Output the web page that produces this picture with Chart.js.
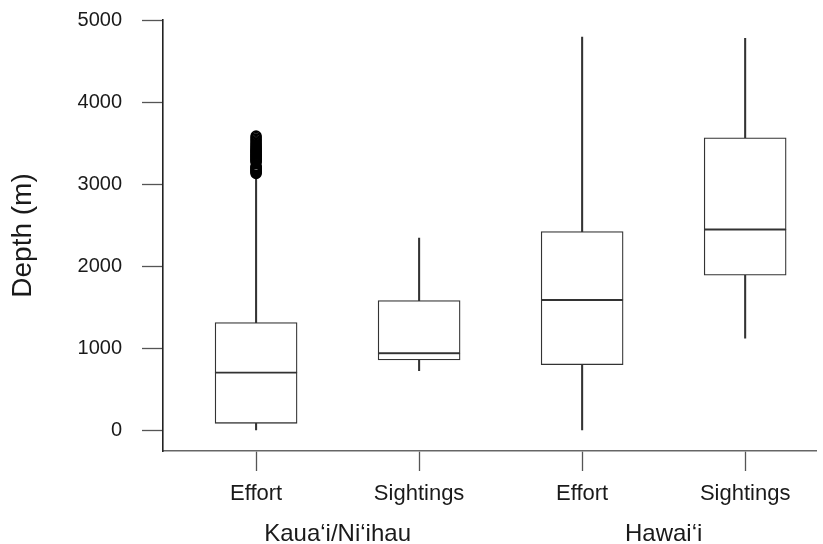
<!DOCTYPE html>
<html>
<head>
<meta charset="utf-8">
<script src="https://cdn.jsdelivr.net/npm/chart.js@4.4.1/dist/chart.umd.min.js"></script>
<style>
  html, body { margin: 0; padding: 0; background: #ffffff; }
  #wrap { width: 823px; height: 544px; }
</style>
</head>
<body>
<div id="wrap"><canvas id="c" width="823" height="544"></canvas></div>
<script>
// ---- data ----
const categories = ['Effort', 'Sightings', 'Effort', 'Sightings'];
const groups = ['Kaua\u2018i/Ni\u2018ihau', 'Hawai\u2018i'];
const mins    = [10,   732,  10,   1127];
const q1s     = [91,   862,  805,  1894];
const medians = [708,  944,  1593, 2449];
const q3s     = [1317, 1585, 2425, 3566];
const maxs    = [3095, 2345, 4793, 4776];
// outliers of the first box (Kaua'i/Ni'ihau effort)
const outliers = [3132, 3141, 3150, 3160, 3168, 3177, 3186, 3195, 3205, 3214, 3222,
                  3270, 3279, 3288, 3298, 3307, 3316, 3326, 3335, 3345, 3354, 3364,
                  3373, 3383, 3392, 3402, 3411, 3421, 3432, 3444, 3458, 3471, 3486,
                  3502, 3518, 3535, 3553, 3571, 3588];
const yTicks = [0, 1000, 2000, 3000, 4000, 5000];

// ---- build datasets ----
const pos = categories.map((c, i) => i + 1);
const LINE = '#333333';
const FONT = "'Liberation Sans', Arial, sans-serif";

const boxStyle = {
  type: 'bar', grouped: false, barThickness: 82,
  backgroundColor: '#ffffff', borderColor: LINE, borderWidth: 1.3, borderSkipped: false, order: 1
};
const whiskerStyle = {
  type: 'bar', grouped: false, barThickness: 1.4,
  backgroundColor: LINE, borderWidth: 0, order: 2
};

const datasets = [
  Object.assign({ label: 'lower half', data: pos.map((x, i) => ({ x, y: [q1s[i], medians[i]] })) }, boxStyle),
  Object.assign({ label: 'upper half', data: pos.map((x, i) => ({ x, y: [medians[i], q3s[i]] })) }, boxStyle),
  Object.assign({ label: 'lower whisker', data: pos.map((x, i) => ({ x, y: [mins[i], q1s[i]] })) }, whiskerStyle),
  Object.assign({ label: 'upper whisker', data: pos.map((x, i) => ({ x, y: [q3s[i], maxs[i]] })) }, whiskerStyle),
  {
    type: 'scatter', label: 'outliers', order: 0,
    data: outliers.map(v => ({ x: 1, y: v })),
    pointStyle: 'circle', pointRadius: 4.8, pointBorderWidth: 1.8,
    pointBorderColor: '#000000', pointBackgroundColor: 'rgba(0,0,0,0)', showLine: false
  }
];

new Chart(document.getElementById('c'), {
  type: 'bar',
  data: { datasets },
  options: {
    responsive: false,
    animation: false,
    devicePixelRatio: 1,
    layout: { padding: { top: 20, right: 0, bottom: 0, left: 0 } },
    plugins: { legend: { display: false }, tooltip: { enabled: false } },
    scales: {
      x: {
        type: 'linear', position: 'bottom', weight: 0, offset: false,
        min: 0.429, max: 4.437,
        afterBuildTicks: s => { s.ticks = pos.map(v => ({ value: v })); },
        afterFit: s => { s.height = 60; s.paddingLeft = 0; s.paddingRight = 0; },
        grid: { offset: false, drawOnChartArea: false, drawTicks: true, tickLength: 20, tickColor: '#555555', tickWidth: 1.3 },
        border: { display: true, color: '#666666', width: 1.6 },
        ticks: {
          autoSkip: false, maxRotation: 0, padding: 10, color: '#1a1a1a',
          font: { family: FONT, size: 22 },
          callback: v => categories[v - 1]
        }
      },
      x2: {
        type: 'linear', position: 'bottom', weight: 1, offset: false,
        min: 0.429, max: 4.437,
        afterBuildTicks: s => { s.ticks = groups.map((g, i) => ({ value: 2 * i + 1.5 })); },
        afterFit: s => { s.height = 33; s.paddingLeft = 0; s.paddingRight = 0; },
        grid: { display: false, drawTicks: false },
        border: { display: false },
        ticks: {
          autoSkip: false, maxRotation: 0, padding: 9, color: '#1a1a1a',
          font: { family: FONT, size: 24 },
          callback: v => groups[(v - 1.5) / 2]
        }
      },
      y: {
        type: 'linear', position: 'left',
        min: -246, max: 5000,
        afterBuildTicks: s => { s.ticks = yTicks.map(v => ({ value: v })); },
        afterFit: s => { s.width = 163; s.paddingTop = 0; s.paddingBottom = 0; },
        grid: { drawOnChartArea: false, drawTicks: true, tickLength: 21, tickColor: '#555555', tickWidth: 1.3 },
        border: { display: true, color: '#222222', width: 1.6 },
        ticks: {
          padding: 20, color: '#1a1a1a',
          font: { family: FONT, size: 20 },
          callback: v => String(v)
        },
        title: {
          display: true, text: 'Depth (m)', color: '#1a1a1a',
          font: { family: FONT, size: 28 },
          padding: { top: 6, bottom: 0 }
        }
      }
    }
  }
});
</script>
</body>
</html>
